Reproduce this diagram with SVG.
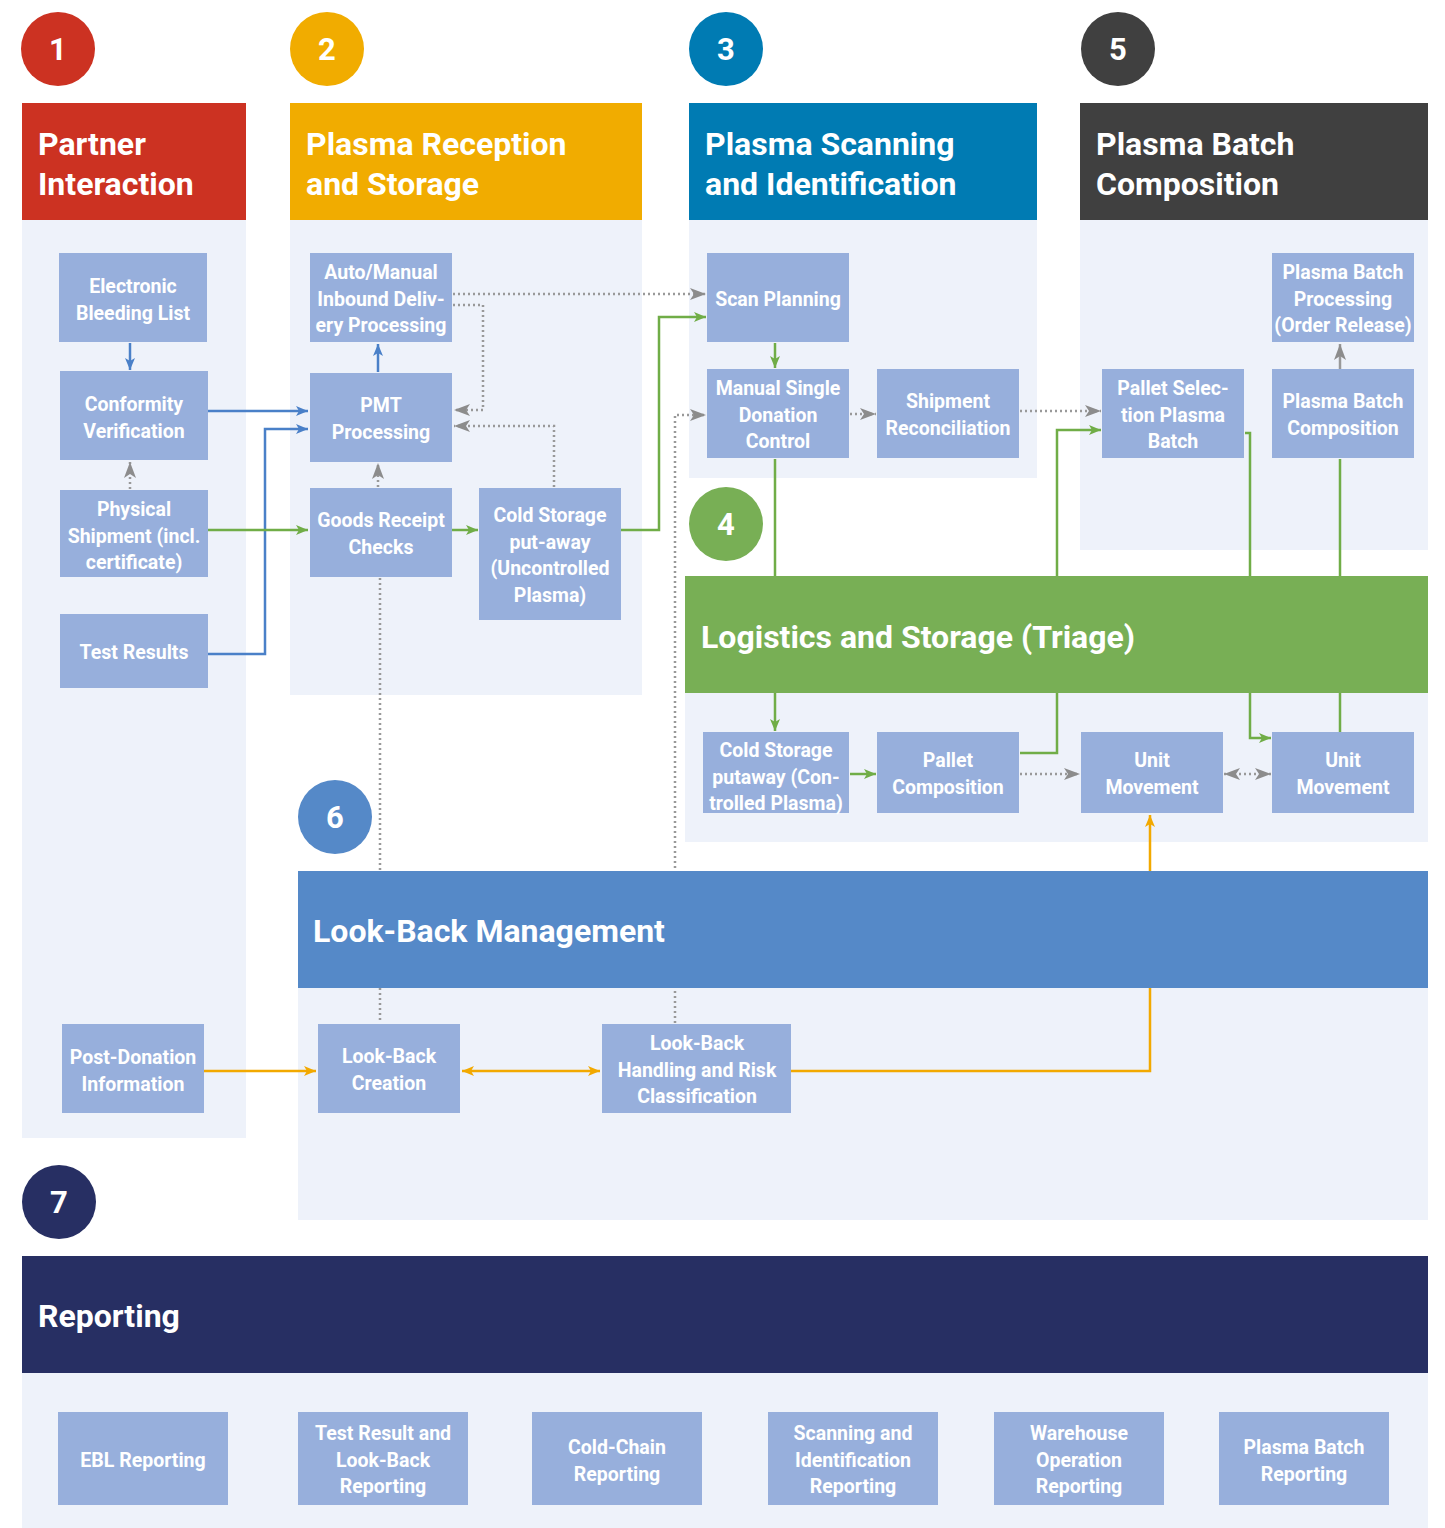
<svg xmlns="http://www.w3.org/2000/svg" width="1445" height="1528" viewBox="0 0 1445 1528">
<style>
.body{fill:#EEF2FA}
.node rect{fill:#97AFDC}
.node text{fill:#fff;font-family:Roboto,"Liberation Sans",sans-serif;font-weight:700;font-size:19.5px;text-anchor:middle}
.hdr{fill:#fff;font-family:Roboto,"Liberation Sans",sans-serif;font-weight:700;font-size:32px}
.num{fill:#fff;font-family:Roboto,"Liberation Sans",sans-serif;font-weight:700;font-size:31px;text-anchor:middle}
.c line,.c polyline{fill:none}
.blue{stroke:#4A80C8;stroke-width:2.5}
.green{stroke:#70AD47;stroke-width:2.5}
.yellow{stroke:#F2A900;stroke-width:2.5}
.gray{stroke:#999;stroke-width:2.5}
.dot{stroke:#999;stroke-width:2.5;stroke-dasharray:2 3}
</style>
<defs>
<marker id="ab" markerUnits="userSpaceOnUse" markerWidth="12" markerHeight="12" refX="12" refY="6" orient="auto-start-reverse"><path d="M0,1 L12,6 L0,11 L3,6 z" fill="#4A80C8"/></marker>
<marker id="ag" markerUnits="userSpaceOnUse" markerWidth="12" markerHeight="12" refX="12" refY="6" orient="auto-start-reverse"><path d="M0,1 L12,6 L0,11 L3,6 z" fill="#70AD47"/></marker>
<marker id="ay" markerUnits="userSpaceOnUse" markerWidth="12" markerHeight="12" refX="12" refY="6" orient="auto-start-reverse"><path d="M0,1 L12,6 L0,11 L3,6 z" fill="#F2A900"/></marker>
<marker id="ak" markerUnits="userSpaceOnUse" markerWidth="16" markerHeight="14" refX="16" refY="7" orient="auto-start-reverse"><path d="M0,1 L16,7 L0,13 L4,7 z" fill="#8C8C8C"/></marker>
</defs>
<rect width="1445" height="1528" fill="#fff"/>

<g id="bodies">
<rect class="body" x="22" y="220" width="224" height="918"/>
<rect class="body" x="290" y="220" width="352" height="475"/>
<rect class="body" x="689" y="220" width="348" height="258"/>
<rect class="body" x="1080" y="220" width="348" height="330"/>
<rect class="body" x="685" y="693" width="743" height="149"/>
<rect class="body" x="298" y="988" width="1130" height="232"/>
<rect class="body" x="22" y="1373" width="1406" height="155"/>
</g>

<g id="connectors" class="c">
<line class="blue" x1="130" y1="343" x2="130" y2="370" marker-end="url(#ab)"/>
<line class="blue" x1="208" y1="411" x2="308" y2="411" marker-end="url(#ab)"/>
<polyline class="blue" points="208,654 265,654 265,429 308,429" marker-end="url(#ab)"/>
<line class="blue" x1="378" y1="372" x2="378" y2="344" marker-end="url(#ab)"/>
<line class="dot" x1="130" y1="489" x2="130" y2="462" marker-end="url(#ak)"/>
<line class="dot" x1="378" y1="487" x2="378" y2="463" marker-end="url(#ak)"/>
<line class="green" x1="208" y1="530" x2="308" y2="530" marker-end="url(#ag)"/>
<line class="green" x1="452" y1="530" x2="478" y2="530" marker-end="url(#ag)"/>
<polyline class="green" points="621,530 659,530 659,317 706,317" marker-end="url(#ag)"/>
<line class="dot" x1="453" y1="294" x2="706" y2="294" marker-end="url(#ak)"/>
<polyline class="dot" points="453,305 483,305 483,410 454,410" marker-end="url(#ak)"/>
<polyline class="dot" points="554,487 554,426 454,426" marker-end="url(#ak)"/>
<line class="green" x1="775" y1="343" x2="775" y2="368" marker-end="url(#ag)"/>
<line class="dot" x1="850" y1="414" x2="876" y2="414" marker-end="url(#ak)"/>
<line class="dot" x1="1020" y1="411" x2="1101" y2="411" marker-end="url(#ak)"/>
<polyline class="dot" points="675,1023 675,415 706,415" marker-end="url(#ak)"/>
<line class="dot" x1="380" y1="578" x2="380" y2="1023"/>
<polyline class="green" points="775,459 775,731" marker-end="url(#ag)"/>
<line class="green" x1="850" y1="774" x2="876" y2="774" marker-end="url(#ag)"/>
<polyline class="green" points="1020,753 1057,753 1057,430 1101,430" marker-end="url(#ag)"/>
<line class="dot" x1="1020" y1="774" x2="1080" y2="774" marker-end="url(#ak)"/>
<line class="dot" x1="1224" y1="774" x2="1271" y2="774" marker-start="url(#ak)" marker-end="url(#ak)"/>
<polyline class="green" points="1245,433 1250,433 1250,738 1271,738" marker-end="url(#ag)"/>
<line class="green" x1="1340" y1="459" x2="1340" y2="732"/>
<line class="gray" x1="1340" y1="369" x2="1340" y2="344" marker-end="url(#ak)"/>
<line class="yellow" x1="204" y1="1071" x2="316" y2="1071" marker-end="url(#ay)"/>
<line class="yellow" x1="462" y1="1071" x2="600" y2="1071" marker-start="url(#ay)" marker-end="url(#ay)"/>
<polyline class="yellow" points="791,1071 1150,1071 1150,815" marker-end="url(#ay)"/>
</g>

<g id="sec1"><rect x="22" y="103" width="224" height="117" fill="#CC3222"/><text class="hdr" x="38" y="155">Partner</text><text class="hdr" x="38" y="195">Interaction</text></g>
<g id="sec2"><rect x="290" y="103" width="352" height="117" fill="#F1AC00"/><text class="hdr" x="306" y="155">Plasma Reception</text><text class="hdr" x="306" y="195">and Storage</text></g>
<g id="sec3"><rect x="689" y="103" width="348" height="117" fill="#007BB3"/><text class="hdr" x="705" y="155">Plasma Scanning</text><text class="hdr" x="705" y="195">and Identification</text></g>
<g id="sec5"><rect x="1080" y="103" width="348" height="117" fill="#404040"/><text class="hdr" x="1096" y="155">Plasma Batch</text><text class="hdr" x="1096" y="195">Composition</text></g>
<g id="sec4"><rect x="685" y="576" width="743" height="117" fill="#78AF55"/><text class="hdr" x="701" y="648">Logistics and Storage (Triage)</text></g>
<g id="sec6"><rect x="298" y="871" width="1130" height="117" fill="#5589C8"/><text class="hdr" x="313" y="942">Look-Back Management</text></g>
<g id="sec7"><rect x="22" y="1256" width="1406" height="117" fill="#272F63"/><text class="hdr" x="38" y="1327">Reporting</text></g>

<g id="badges">
<circle cx="58" cy="49" r="37" fill="#CC3222"/><text class="num" x="58" y="60">1</text>
<circle cx="327" cy="49" r="37" fill="#F1AC00"/><text class="num" x="327" y="60">2</text>
<circle cx="726" cy="49" r="37" fill="#007BB3"/><text class="num" x="726" y="60">3</text>
<circle cx="1118" cy="49" r="37" fill="#404040"/><text class="num" x="1118" y="60">5</text>
<circle cx="726" cy="524" r="37" fill="#78AF55"/><text class="num" x="726" y="535">4</text>
<circle cx="335" cy="817" r="37" fill="#5589C8"/><text class="num" x="335" y="828">6</text>
<circle cx="59" cy="1202" r="37" fill="#272F63"/><text class="num" x="59" y="1213">7</text>
</g>

<g id="n-ebl" class="node"><rect x="59" y="253" width="148" height="89"/><text x="133" y="293">Electronic</text><text x="133" y="319.5">Bleeding List</text></g>
<g id="n-conf" class="node"><rect x="60" y="371" width="148" height="89"/><text x="134" y="411">Conformity</text><text x="134" y="437.5">Verification</text></g>
<g id="n-phys" class="node"><rect x="60" y="490" width="148" height="87"/><text x="134" y="516">Physical</text><text x="134" y="542.5">Shipment (incl.</text><text x="134" y="569">certificate)</text></g>
<g id="n-test" class="node"><rect x="60" y="614" width="148" height="74"/><text x="134" y="659">Test Results</text></g>
<g id="n-post" class="node"><rect x="62" y="1024" width="142" height="89"/><text x="133" y="1064">Post-Donation</text><text x="133" y="1090.5">Information</text></g>

<g id="n-auto" class="node"><rect x="310" y="253" width="142" height="89"/><text x="381" y="279">Auto/Manual</text><text x="381" y="305.5">Inbound Deliv-</text><text x="381" y="332">ery Processing</text></g>
<g id="n-pmt" class="node"><rect x="310" y="373" width="142" height="89"/><text x="381" y="412">PMT</text><text x="381" y="438.5">Processing</text></g>
<g id="n-grc" class="node"><rect x="310" y="488" width="142" height="89"/><text x="381" y="527">Goods Receipt</text><text x="381" y="553.5">Checks</text></g>
<g id="n-csu" class="node"><rect x="479" y="488" width="142" height="132"/><text x="550" y="522">Cold Storage</text><text x="550" y="548.5">put-away</text><text x="550" y="575">(Uncontrolled</text><text x="550" y="601.5">Plasma)</text></g>

<g id="n-scan" class="node"><rect x="707" y="253" width="142" height="89"/><text x="778" y="306">Scan Planning</text></g>
<g id="n-msdc" class="node"><rect x="707" y="369" width="142" height="89"/><text x="778" y="395">Manual Single</text><text x="778" y="421.5">Donation</text><text x="778" y="448">Control</text></g>
<g id="n-ship" class="node"><rect x="877" y="369" width="142" height="89"/><text x="948" y="408">Shipment</text><text x="948" y="434.5">Reconciliation</text></g>

<g id="n-pbp" class="node"><rect x="1272" y="253" width="142" height="89"/><text x="1343" y="279">Plasma Batch</text><text x="1343" y="305.5">Processing</text><text x="1343" y="332">(Order Release)</text></g>
<g id="n-psel" class="node"><rect x="1102" y="369" width="142" height="89"/><text x="1173" y="395">Pallet Selec-</text><text x="1173" y="421.5">tion Plasma</text><text x="1173" y="448">Batch</text></g>
<g id="n-pbc" class="node"><rect x="1272" y="369" width="142" height="89"/><text x="1343" y="408">Plasma Batch</text><text x="1343" y="434.5">Composition</text></g>

<g id="n-csc" class="node"><rect x="703" y="732" width="146" height="81"/><text x="776" y="757">Cold Storage</text><text x="776" y="783.5">putaway (Con-</text><text x="776" y="810">trolled Plasma)</text></g>
<g id="n-pcomp" class="node"><rect x="877" y="732" width="142" height="81"/><text x="948" y="767">Pallet</text><text x="948" y="793.5">Composition</text></g>
<g id="n-um1" class="node"><rect x="1081" y="732" width="142" height="81"/><text x="1152" y="767">Unit</text><text x="1152" y="793.5">Movement</text></g>
<g id="n-um2" class="node"><rect x="1272" y="732" width="142" height="81"/><text x="1343" y="767">Unit</text><text x="1343" y="793.5">Movement</text></g>

<g id="n-lbc" class="node"><rect x="318" y="1024" width="142" height="89"/><text x="389" y="1063">Look-Back</text><text x="389" y="1089.5">Creation</text></g>
<g id="n-lbh" class="node"><rect x="602" y="1024" width="189" height="89"/><text x="697" y="1050">Look-Back</text><text x="697" y="1076.5">Handling and Risk</text><text x="697" y="1103">Classification</text></g>

<g id="n-r1" class="node"><rect x="58" y="1412" width="170" height="93"/><text x="143" y="1467">EBL Reporting</text></g>
<g id="n-r2" class="node"><rect x="298" y="1412" width="170" height="93"/><text x="383" y="1440">Test Result and</text><text x="383" y="1466.5">Look-Back</text><text x="383" y="1493">Reporting</text></g>
<g id="n-r3" class="node"><rect x="532" y="1412" width="170" height="93"/><text x="617" y="1454">Cold-Chain</text><text x="617" y="1480.5">Reporting</text></g>
<g id="n-r4" class="node"><rect x="768" y="1412" width="170" height="93"/><text x="853" y="1440">Scanning and</text><text x="853" y="1466.5">Identification</text><text x="853" y="1493">Reporting</text></g>
<g id="n-r5" class="node"><rect x="994" y="1412" width="170" height="93"/><text x="1079" y="1440">Warehouse</text><text x="1079" y="1466.5">Operation</text><text x="1079" y="1493">Reporting</text></g>
<g id="n-r6" class="node"><rect x="1219" y="1412" width="170" height="93"/><text x="1304" y="1454">Plasma Batch</text><text x="1304" y="1480.5">Reporting</text></g>
</svg>
